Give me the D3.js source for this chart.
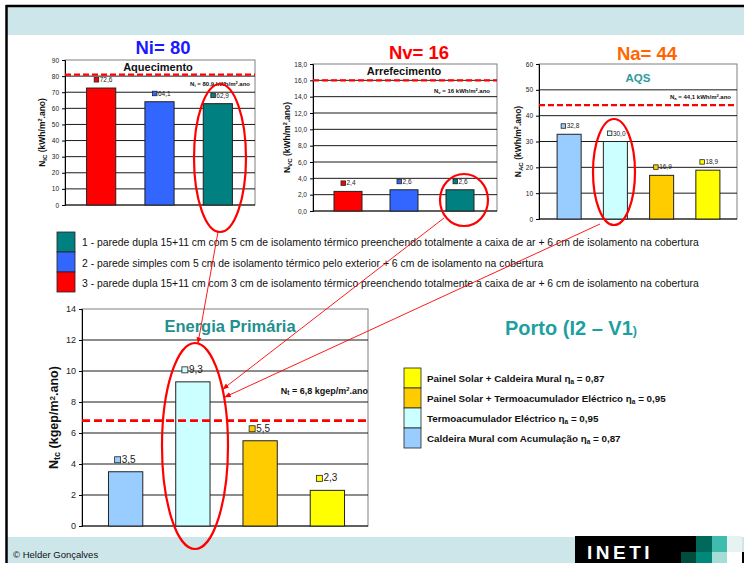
<!DOCTYPE html>
<html>
<head>
<meta charset="utf-8">
<script src="https://cdn.jsdelivr.net/npm/d3@7"></script>
<style>
  html, body { margin: 0; padding: 0; background: #fff; }
  svg { display: block; font-family: "Liberation Sans", Arial, sans-serif; }
</style>
</head>
<body>
<svg id="chart" width="744" height="563"></svg>
<script>
// ---- data ----
const wallCategories = ["3", "2", "1"];
const heatingValues = [72.6, 64.1, 62.9];
const coolingValues = [2.4, 2.6, 2.6];
const wallColors = ["#ff0000", "#3366ff", "#008080"];

const dhwCategories = ["Caldeira", "Termoacumulador", "Solar+Termo", "Solar+Caldeira"];
const dhwValues = [32.8, 30.0, 16.9, 18.9];
const primaryValues = [3.5, 9.3, 5.5, 2.3];
const dhwColors = ["#99ccff", "#ccffff", "#ffcc00", "#ffff00"];

const heatingLimit = 80.9;
const coolingLimit = 16;
const dhwLimit = 44.1;
const primaryLimit = 6.8;

const heatingTicks = [0, 10, 20, 30, 40, 50, 60, 70, 80, 90];
const coolingTicks = [0, 2, 4, 6, 8, 10, 12, 14, 16, 18];
const dhwTicks = [0, 10, 20, 30, 40, 50, 60];
const primaryTicks = [0, 2, 4, 6, 8, 10, 12, 14];

const wallLegend = [
  "1 - parede dupla 15+11 cm com 5 cm de isolamento térmico preenchendo totalmente a caixa de ar + 6 cm de isolamento na cobertura",
  "2 - parede simples com 5 cm de isolamento térmico pelo exterior + 6 cm de isolamento na cobertura",
  "3 - parede dupla 15+11 cm com 3 cm de isolamento térmico preenchendo totalmente a caixa de ar + 6 cm de isolamento na cobertura"
];
const wallLegendColors = ["#008080", "#3366ff", "#ff0000"];

const dhwLegend = [
  ["Painel Solar + Caldeira Mural ", "0,87"],
  ["Painel Solar + Termoacumulador Eléctrico ", "0,95"],
  ["Termoacumulador Eléctrico ", "0,95"],
  ["Caldeira Mural com Acumulação  ", "0,87"]
];
const dhwLegendColors = ["#ffff00", "#ffcc00", "#ccffff", "#99ccff"];

const comma = d3.format(".1f");
const decimal = v => comma(v).replace(".", ",");
const integer = v => String(v);

const svg = d3.select("#chart");
const band = "#cde6ea";

// ---- page frame ----
svg.append("rect").attr("x", 7).attr("y", 7).attr("width", 737).attr("height", 28).attr("fill", band);
svg.append("rect").attr("x", 7).attr("y", 537).attr("width", 737).attr("height", 26).attr("fill", band);
svg.append("line").attr("x1", 6).attr("x2", 744).attr("y1", 6).attr("y2", 6).attr("stroke", "#000").attr("stroke-width", 2.5);
svg.append("line").attr("x1", 6.5).attr("x2", 6.5).attr("y1", 5).attr("y2", 563).attr("stroke", "#000").attr("stroke-width", 2.5);

// ---- generic bar panel ----
function panel(cfg) {
  const g = svg.append("g");
  const y = d3.scaleLinear().domain([0, cfg.max]).range([cfg.bottom, cfg.top]);
  const x = d3.scaleBand().domain(cfg.categories).range(cfg.bandRange).paddingInner(cfg.pad).paddingOuter(cfg.pad / 2);

  g.append("rect").attr("x", cfg.left).attr("y", cfg.top)
    .attr("width", cfg.right - cfg.left).attr("height", cfg.bottom - cfg.top)
    .attr("fill", "#fff").attr("stroke", "#808080").attr("stroke-width", 1);

  // gridlines
  g.selectAll(".grid").data(cfg.ticks.filter(t => t > 0 && t < cfg.max)).join("line")
    .attr("x1", cfg.left).attr("x2", cfg.right)
    .attr("y1", d => y(d)).attr("y2", d => y(d))
    .attr("stroke", "#000").attr("stroke-width", 0.9);

  // y axis
  const axis = d3.axisLeft(y).tickValues(cfg.ticks).tickFormat(cfg.fmt).tickSize(3).tickPadding(3);
  const ag = g.append("g").attr("transform", `translate(${cfg.left},0)`).call(axis);
  ag.select(".domain").attr("stroke", "#000");
  ag.selectAll(".tick line").attr("stroke", "#000");
  ag.selectAll(".tick text").attr("font-size", cfg.tickSize).attr("fill", "#222")
    .attr("font-family", "Liberation Sans, Arial, sans-serif");

  g.append("line").attr("x1", cfg.left).attr("x2", cfg.right)
    .attr("y1", cfg.bottom).attr("y2", cfg.bottom).attr("stroke", "#000");

  // bars
  g.selectAll(".bar").data(cfg.values).join("rect")
    .attr("x", (d, i) => x(cfg.categories[i]))
    .attr("y", d => y(d))
    .attr("width", x.bandwidth())
    .attr("height", d => cfg.bottom - y(d))
    .attr("fill", (d, i) => cfg.colors[i])
    .attr("stroke", "#222").attr("stroke-width", 1);

  // value labels with colour key
  const lab = g.selectAll(".lab").data(cfg.values).join("g")
    .attr("transform", (d, i) => `translate(${x(cfg.categories[i]) + x.bandwidth() / 2},${y(d) - cfg.labelGap})`);
  lab.append("rect").attr("x", cfg.keyOff).attr("y", -cfg.keySize)
    .attr("width", cfg.keySize).attr("height", cfg.keySize)
    .attr("fill", (d, i) => cfg.colors[i]).attr("stroke", "#222").attr("stroke-width", 0.8);
  lab.append("text").attr("x", cfg.keyOff + cfg.keySize + 1).attr("y", 0)
    .attr("font-size", cfg.labelSize).attr("fill", "#222").text(d => decimal(d));

  // reference line
  g.append("line").attr("x1", cfg.left).attr("x2", cfg.right)
    .attr("y1", y(cfg.limit)).attr("y2", y(cfg.limit))
    .attr("stroke", "#ff0000").attr("stroke-width", cfg.dashWidth).attr("stroke-dasharray", cfg.dash);

  // y axis title
  const t = g.append("text")
    .attr("transform", `translate(${cfg.titleX},${(cfg.top + cfg.bottom) / 2}) rotate(-90)`)
    .attr("text-anchor", "middle").attr("font-weight", "bold").attr("font-size", cfg.axisTitleSize).attr("fill", "#111");
  t.append("tspan").text("N");
  t.append("tspan").attr("font-size", cfg.axisTitleSize * 0.72).attr("dy", 1.5).text(cfg.sub);
  t.append("tspan").attr("dy", -1.5).text(cfg.unitA);
  t.append("tspan").attr("font-size", cfg.axisTitleSize * 0.65).attr("dy", -3).text("2");
  t.append("tspan").attr("dy", 3).text(cfg.unitB);

  return { g, x, y };
}

function limitNote(x, yy, size, sub, val, unit, anchor) {
  const t = svg.append("text").attr("x", x).attr("y", yy).attr("font-size", size)
    .attr("font-weight", "bold").attr("fill", "#111").attr("text-anchor", anchor || "start");
  t.append("tspan").text("N");
  t.append("tspan").attr("font-size", size * 0.7).attr("dy", 1.2).text(sub);
  t.append("tspan").attr("dy", -1.2).text(" = " + val + " " + unit);
  t.append("tspan").attr("font-size", size * 0.65).attr("dy", -size * 0.35).text("2");
  t.append("tspan").attr("dy", size * 0.35).text(".ano");
}

// ---- heating ----
panel({
  left: 65, right: 255, top: 60, bottom: 205, max: 90,
  categories: wallCategories, values: heatingValues, colors: wallColors,
  bandRange: [72, 247], pad: 0.5, ticks: heatingTicks, fmt: integer, tickSize: 6.5,
  limit: heatingLimit, dash: "6,3", dashWidth: 2.4,
  labelGap: 6, keyOff: -7, keySize: 4.5, labelSize: 6.5,
  titleX: 45, axisTitleSize: 8.5, sub: "IC", unitA: " (kWh/m", unitB: ".ano)"
});
svg.append("text").attr("x", 163).attr("y", 54).attr("text-anchor", "middle")
  .attr("font-size", 18.5).attr("font-weight", "bold").attr("fill", "#1a1aff").text("Ni= 80");
svg.append("text").attr("x", 158).attr("y", 71).attr("text-anchor", "middle")
  .attr("font-size", 11).attr("font-weight", "bold").attr("fill", "#111").text("Aquecimento");
limitNote(250, 86, 6, "i", "80,9", "kWh/m", "end");

// ---- cooling ----
panel({
  left: 313, right: 497, top: 64, bottom: 211, max: 18,
  categories: wallCategories, values: coolingValues, colors: wallColors,
  bandRange: [320, 488], pad: 0.5, ticks: coolingTicks, fmt: decimal, tickSize: 6.5,
  limit: coolingLimit, dash: "6,3", dashWidth: 2.4,
  labelGap: 6, keyOff: -7, keySize: 4.5, labelSize: 6.5,
  titleX: 290, axisTitleSize: 8.5, sub: "VC", unitA: " (kWh/m", unitB: ".ano)"
});
svg.append("text").attr("x", 419).attr("y", 59).attr("text-anchor", "middle")
  .attr("font-size", 18.5).attr("font-weight", "bold").attr("fill", "#ff0000").text("Nv= 16");
svg.append("text").attr("x", 404).attr("y", 75).attr("text-anchor", "middle")
  .attr("font-size", 11).attr("font-weight", "bold").attr("fill", "#111").text("Arrefecimento");
limitNote(490, 93, 6, "v", "16", "kWh/m", "end");

// ---- domestic hot water ----
panel({
  left: 539, right: 737, top: 64, bottom: 219, max: 60,
  categories: dhwCategories, values: dhwValues, colors: dhwColors,
  bandRange: [546, 731], pad: 0.48, ticks: dhwTicks, fmt: integer, tickSize: 6.5,
  limit: dhwLimit, dash: "6,3", dashWidth: 2.4,
  labelGap: 6, keyOff: -8, keySize: 4.5, labelSize: 6.5,
  titleX: 521, axisTitleSize: 8.5, sub: "AC", unitA: " (kWh/m", unitB: ".ano)"
});
svg.append("text").attr("x", 647).attr("y", 60).attr("text-anchor", "middle")
  .attr("font-size", 18.5).attr("font-weight", "bold").attr("fill", "#ff6600").text("Na= 44");
svg.append("text").attr("x", 638).attr("y", 82).attr("text-anchor", "middle")
  .attr("font-size", 11.5).attr("font-weight", "bold").attr("fill", "#2e9b9b").text("AQS");
limitNote(731, 99, 6, "a", "44,1", "kWh/m", "end");

// ---- wall legend ----
wallLegend.forEach((txt, i) => {
  svg.append("rect").attr("x", 57).attr("y", 232 + i * 20).attr("width", 18).attr("height", 20)
    .attr("fill", wallLegendColors[i]).attr("stroke", "#222").attr("stroke-width", 0.8);
  svg.append("text").attr("x", 82).attr("y", 246 + i * 20.5).attr("font-size", 10.4)
    .attr("fill", "#111").text(txt);
});

// ---- primary energy ----
panel({
  left: 82, right: 368, top: 309, bottom: 526, max: 14,
  categories: dhwCategories, values: primaryValues, colors: dhwColors,
  bandRange: [92, 361], pad: 0.49, ticks: primaryTicks, fmt: integer, tickSize: 9,
  limit: primaryLimit, dash: "8,4", dashWidth: 2.6,
  labelGap: 9, keyOff: -11, keySize: 6, labelSize: 10,
  titleX: 58, axisTitleSize: 12.5, sub: "tc", unitA: " (kgep/m", unitB: ".ano)"
});
svg.append("text").attr("x", 230).attr("y", 332).attr("text-anchor", "middle")
  .attr("font-size", 16.5).attr("font-weight", "bold").attr("fill", "#1f8f8f").text("Energia Primária");
limitNote(368, 394, 9, "t", "6,8", "kgep/m", "end");

// ---- region title ----
const pt = svg.append("text").attr("x", 505).attr("y", 335)
  .attr("font-size", 20).attr("font-weight", "bold").attr("fill", "#1f9f9f");
pt.append("tspan").text("Porto (I2 – V1");
pt.append("tspan").attr("font-size", 12.5).text(")");

// ---- hot-water system legend ----
dhwLegend.forEach((row, i) => {
  svg.append("rect").attr("x", 404).attr("y", 368 + i * 20).attr("width", 17).attr("height", 20)
    .attr("fill", dhwLegendColors[i]).attr("stroke", "#222").attr("stroke-width", 0.8);
  const t = svg.append("text").attr("x", 427).attr("y", 382 + i * 20).attr("font-size", 9.8)
    .attr("font-weight", "bold").attr("fill", "#111");
  t.append("tspan").text(row[0]);
  t.append("tspan").text("η");
  t.append("tspan").attr("font-size", 6.5).attr("dy", 2).text("a");
  t.append("tspan").attr("dy", -2).text(" = " + row[1]);
});

// ---- highlight ellipses and arrows ----
const defs = svg.append("defs");
defs.append("marker").attr("id", "arrow").attr("viewBox", "0 0 10 10")
  .attr("refX", 9).attr("refY", 5).attr("markerWidth", 7).attr("markerHeight", 7)
  .attr("orient", "auto-start-reverse")
  .append("path").attr("d", "M0,1 L10,5 L0,9 Z").attr("fill", "#ff0000");

const rings = [
  { cx: 220, cy: 158, rx: 26, ry: 74 },
  { cx: 464, cy: 200, rx: 24, ry: 26 },
  { cx: 614, cy: 172, rx: 21, ry: 53 },
  { cx: 195, cy: 446, rx: 33, ry: 103 }
];
svg.selectAll(".ring").data(rings).join("ellipse")
  .attr("cx", d => d.cx).attr("cy", d => d.cy).attr("rx", d => d.rx).attr("ry", d => d.ry)
  .attr("fill", "none").attr("stroke", "#ff0000").attr("stroke-width", 2.2);

const arrows = [
  [[218, 232], [198, 343]],
  [[444, 218], [223, 389]],
  [[600, 224], [225, 397]]
];
svg.selectAll(".arrow").data(arrows).join("line")
  .attr("x1", d => d[0][0]).attr("y1", d => d[0][1]).attr("x2", d => d[1][0]).attr("y2", d => d[1][1])
  .attr("stroke", "#ff0000").attr("stroke-width", 0.9).attr("marker-end", "url(#arrow)");

// ---- footer ----
svg.append("text").attr("x", 13).attr("y", 558).attr("font-size", 9.5).attr("fill", "#111").text("© Helder Gonçalves");
svg.append("rect").attr("x", 575).attr("y", 536).attr("width", 121).attr("height", 27).attr("fill", "#000");
svg.append("text").attr("x", 587).attr("y", 559).attr("font-size", 19).attr("font-weight", "bold")
  .attr("fill", "#fff").attr("letter-spacing", 3.5).text("INETI");
const tiles = [
  [696, 536, "#00695c"], [712, 536, "#3fbcae"], [727, 536, "#e6f3f1"],
  [681, 552, "#004d40"], [696, 552, "#00897b"], [712, 552, "#a3ddd5"], [727, 552, "#ffffff"]
];
svg.selectAll(".tile").data(tiles).join("rect")
  .attr("x", d => d[0]).attr("y", d => d[1]).attr("width", d => (d[0] === 727 ? 15 : 16)).attr("height", d => (d[1] === 536 ? 16 : 11))
  .attr("fill", d => d[2]);
svg.append("rect").attr("x", 742).attr("y", 552).attr("width", 2).attr("height", 11).attr("fill", "#000");
</script>
</body>
</html>
